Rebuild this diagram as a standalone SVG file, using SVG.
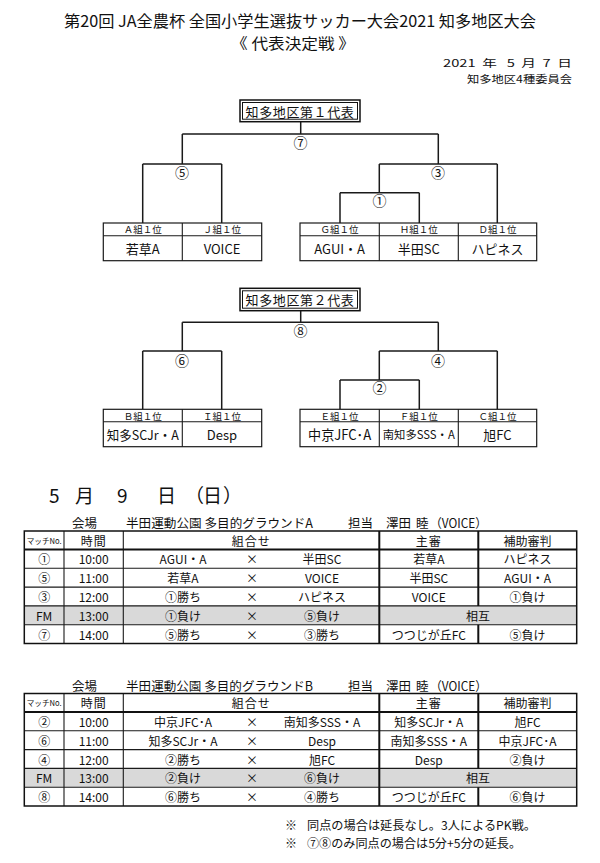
<svg xmlns="http://www.w3.org/2000/svg" width="600" height="863" viewBox="0 0 600 863">
<style>
text{font-family:"Noto Sans CJK JP","Noto Sans CJK SC",sans-serif;fill:#111;}
.c{text-anchor:middle;dominant-baseline:central;}
.t{font-size:12px;}
.lab{font-size:9.5px;}
.team{font-size:13px;}
.num{font-size:14px;}
.ln{stroke:#1a1a1a;stroke-width:1.5;fill:none;}
.box{stroke:#1a1a1a;stroke-width:1.2;fill:#fff;}
.tl{stroke:#1a1a1a;stroke-width:1.1;fill:none;}
.tk{stroke:#111;stroke-width:2;fill:none;}
.fm{fill:#d9d9d9;}
</style>
<rect width="600" height="863" fill="#fff"/>
<g id="header">
<text x="300" y="20" class="c" font-size="16" textLength="472" lengthAdjust="spacingAndGlyphs">第20回 JA全農杯 全国小学生選抜サッカー大会2021 知多地区大会</text>
<text x="293" y="42" class="c" font-size="15" textLength="124" lengthAdjust="spacingAndGlyphs">《 代表決定戦 》</text>
<text x="443" y="62.5" font-size="10.5" dominant-baseline="central" textLength="129" lengthAdjust="spacingAndGlyphs" xml:space="preserve">2021  年   5  月  7  日</text>
<text x="467" y="78.3" font-size="10.5" dominant-baseline="central" textLength="105" lengthAdjust="spacingAndGlyphs">知多地区4種委員会</text>
</g>
<g id="connectors">
<path class="ln" d="M300.7 121.7V134M182.3 134H438.3M182.3 134V164M142.7 164H221.7M142.7 164V223M221.7 164V223M438.3 134V164M379.3 164H497.3M497.3 164V223M379.3 164V192.7M340 192.7H419.3M340 192.7V223M419.3 192.7V223"/>
<path class="ln" d="M300.7 310.7V322.3M182.3 322.3H438.3M182.3 322.3V351M142.7 351H221.7M142.7 351V409.3M221.7 351V409.3M438.3 322.3V351M379.3 351H497.3M497.3 351V409.3M379.3 351V380M340 380H419.3M340 380V409.3M419.3 380V409.3"/>
</g>
<g id="match-labels">
<text x="300.5" y="141.5" class="c num">⑦</text>
<text x="182" y="171.5" class="c num">⑤</text>
<text x="438" y="171.5" class="c num">③</text>
<text x="379.5" y="200" class="c num">①</text>
<text x="300.5" y="330" class="c num">⑧</text>
<text x="182" y="359.5" class="c num">⑥</text>
<text x="438" y="359.5" class="c num">④</text>
<text x="379.5" y="387" class="c num">②</text>
</g>
<g id="rep1">
<rect x="240" y="100" width="120" height="21.7" fill="#fff" stroke="#111" stroke-width="1.5"/>
<rect x="242.5" y="102.5" width="115" height="16.7" fill="none" stroke="#111" stroke-width="1"/>
<text x="300" y="111" class="c" font-size="13" letter-spacing="0.6">知多地区第１代表</text>
</g>
<g id="rep2">
<rect x="240" y="288.3" width="120" height="22.4" fill="#fff" stroke="#111" stroke-width="1.5"/>
<rect x="242.5" y="290.8" width="115" height="17.4" fill="none" stroke="#111" stroke-width="1"/>
<text x="300" y="299.5" class="c" font-size="13" letter-spacing="0.6">知多地区第２代表</text>
</g>
<g id="teams-a">
<rect class="box" x="103.3" y="223" width="158.4" height="37.7"/>
<path class="tl" d="M103.3 235.7H261.7M182.3 223V260.7"/>
<text x="142.8" y="229.4" class="c lab">Ａ組１位</text>
<text x="222" y="229.4" class="c lab">Ｊ組１位</text>
<text x="142.8" y="248.3" class="c team">若草A</text>
<text x="222" y="248.3" class="c team">VOICE</text>
</g>
<g id="teams-b">
<rect class="box" x="300" y="223" width="236.7" height="37.7"/>
<path class="tl" d="M300 235.7H536.7M379.3 223V260.7M458.3 223V260.7"/>
<text x="339.6" y="229.4" class="c lab">Ｇ組１位</text>
<text x="418.8" y="229.4" class="c lab">Ｈ組１位</text>
<text x="497.5" y="229.4" class="c lab">Ｄ組１位</text>
<text x="339.6" y="248.3" class="c team">AGUI・A</text>
<text x="418.8" y="248.3" class="c team">半田SC</text>
<text x="497.5" y="248.3" class="c team">ハピネス</text>
</g>
<g id="teams-c">
<rect class="box" x="103.3" y="409.3" width="158.4" height="37.4"/>
<path class="tl" d="M103.3 421.7H261.7M182.3 409.3V446.7"/>
<text x="142.8" y="415.6" class="c lab">Ｂ組１位</text>
<text x="222" y="415.6" class="c lab">Ｉ組１位</text>
<text x="142.8" y="434.3" class="c team" textLength="72" lengthAdjust="spacingAndGlyphs">知多SCJr・A</text>
<text x="222" y="434.3" class="c team">Desp</text>
</g>
<g id="teams-d">
<rect class="box" x="300" y="409.3" width="236.7" height="37.4"/>
<path class="tl" d="M300 421.7H536.7M379.3 409.3V446.7M458.3 409.3V446.7"/>
<text x="339.6" y="415.6" class="c lab">Ｅ組１位</text>
<text x="418.8" y="415.6" class="c lab">Ｆ組１位</text>
<text x="497.5" y="415.6" class="c lab">Ｃ組１位</text>
<text x="339.6" y="434.3" class="c" font-size="14" textLength="63" lengthAdjust="spacingAndGlyphs">中京JFC･A</text>
<text x="418.8" y="434.3" class="c" font-size="11.5" textLength="72" lengthAdjust="spacingAndGlyphs">南知多SSS・A</text>
<text x="497.5" y="434.3" class="c team">旭FC</text>
</g>
<g id="day">
<text y="494" font-size="19" dominant-baseline="central"><tspan x="49">5</tspan><tspan x="75">月</tspan><tspan x="117">9</tspan><tspan x="157">日</tspan><tspan x="185">（</tspan><tspan x="203">日</tspan><tspan x="223">）</tspan></text>
</g>
<g id="venue-a">
<text x="72" y="522.7" font-size="12.5" dominant-baseline="central">会場</text>
<text x="126" y="522.7" font-size="12.5" dominant-baseline="central" textLength="187" lengthAdjust="spacingAndGlyphs">半田運動公園 多目的グラウンドA</text>
<text x="348" y="522.7" font-size="12.5" dominant-baseline="central">担当</text>
<text x="386" y="522.7" font-size="12.5" dominant-baseline="central">澤田</text>
<text x="416" y="522.7" font-size="12.5" dominant-baseline="central">睦</text>
<text x="430" y="522.7" font-size="12.5" dominant-baseline="central" textLength="57" lengthAdjust="spacingAndGlyphs">（VOICE）</text>
</g>
<g id="table-a">
<rect class="fm" x="24.3" y="605.9" width="552.4" height="18.8"/>
<path class="tl" d="M24.3 568.3H576.7M24.3 587.1H576.7M24.3 605.9H576.7M24.3 624.7H576.7M64 531V643.5M123.3 531V643.5"/>
<path class="tk" d="M24.3 549.5H576.7M379.3 531V643.5M478.3 531V605.9M478.3 624.7V643.5"/>
<rect x="24.3" y="531" width="552.4" height="112.5" fill="none" stroke="#111" stroke-width="1.5"/>
<text x="44.2" y="540.3" class="c" font-size="8" textLength="35" lengthAdjust="spacingAndGlyphs">マッチNo.</text>
<text x="93.7" y="540.3" class="c t" letter-spacing="1">時間</text>
<text x="251.3" y="540.3" class="c t" letter-spacing="1">組合せ</text>
<text x="428.8" y="540.3" class="c t" letter-spacing="1">主審</text>
<text x="527.5" y="540.3" class="c t">補助審判</text>
<g class="t">
<text x="44.2" y="558.9" class="c">①</text><text x="93.7" y="558.9" class="c">10:00</text><text x="183" y="558.9" class="c">AGUI・A</text><text x="252" y="558.9" class="c">×</text><text x="322" y="558.9" class="c">半田SC</text><text x="428.8" y="558.9" class="c">若草A</text><text x="527.5" y="558.9" class="c">ハピネス</text>
<text x="44.2" y="577.7" class="c">⑤</text><text x="93.7" y="577.7" class="c">11:00</text><text x="183" y="577.7" class="c">若草A</text><text x="252" y="577.7" class="c">×</text><text x="322" y="577.7" class="c">VOICE</text><text x="428.8" y="577.7" class="c">半田SC</text><text x="527.5" y="577.7" class="c">AGUI・A</text>
<text x="44.2" y="596.5" class="c">③</text><text x="93.7" y="596.5" class="c">12:00</text><text x="183" y="596.5" class="c">①勝ち</text><text x="252" y="596.5" class="c">×</text><text x="322" y="596.5" class="c">ハピネス</text><text x="428.8" y="596.5" class="c">VOICE</text><text x="527.5" y="596.5" class="c">①負け</text>
<text x="44.2" y="615.3" class="c">FM</text><text x="93.7" y="615.3" class="c">13:00</text><text x="183" y="615.3" class="c">①負け</text><text x="252" y="615.3" class="c">×</text><text x="322" y="615.3" class="c">⑤負け</text><text x="478" y="615.3" class="c">相互</text>
<text x="44.2" y="634.1" class="c">⑦</text><text x="93.7" y="634.1" class="c">14:00</text><text x="183" y="634.1" class="c">⑤勝ち</text><text x="252" y="634.1" class="c">×</text><text x="322" y="634.1" class="c">③勝ち</text><text x="428.8" y="634.1" class="c">つつじが丘FC</text><text x="527.5" y="634.1" class="c">⑤負け</text>
</g>
</g>
<g id="venue-b">
<text x="72" y="685" font-size="12.5" dominant-baseline="central">会場</text>
<text x="126" y="685" font-size="12.5" dominant-baseline="central" textLength="187" lengthAdjust="spacingAndGlyphs">半田運動公園 多目的グラウンドB</text>
<text x="348" y="685" font-size="12.5" dominant-baseline="central">担当</text>
<text x="386" y="685" font-size="12.5" dominant-baseline="central">澤田</text>
<text x="416" y="685" font-size="12.5" dominant-baseline="central">睦</text>
<text x="430" y="685" font-size="12.5" dominant-baseline="central" textLength="57" lengthAdjust="spacingAndGlyphs">（VOICE）</text>
</g>
<g id="table-b" transform="translate(0,162.5)">
<rect class="fm" x="24.3" y="605.9" width="552.4" height="18.8"/>
<path class="tl" d="M24.3 568.3H576.7M24.3 587.1H576.7M24.3 605.9H576.7M24.3 624.7H576.7M64 531V643.5M123.3 531V643.5"/>
<path class="tk" d="M24.3 549.5H576.7M379.3 531V643.5M478.3 531V605.9M478.3 624.7V643.5"/>
<rect x="24.3" y="531" width="552.4" height="112.5" fill="none" stroke="#111" stroke-width="1.5"/>
<text x="44.2" y="540.3" class="c" font-size="8" textLength="35" lengthAdjust="spacingAndGlyphs">マッチNo.</text>
<text x="93.7" y="540.3" class="c t" letter-spacing="1">時間</text>
<text x="251.3" y="540.3" class="c t" letter-spacing="1">組合せ</text>
<text x="428.8" y="540.3" class="c t" letter-spacing="1">主審</text>
<text x="527.5" y="540.3" class="c t">補助審判</text>
<g class="t">
<text x="44.2" y="558.9" class="c">②</text><text x="93.7" y="558.9" class="c">10:00</text><text x="183" y="558.9" class="c">中京JFC･A</text><text x="252" y="558.9" class="c">×</text><text x="322" y="558.9" class="c">南知多SSS・A</text><text x="428.8" y="558.9" class="c">知多SCJr・A</text><text x="527.5" y="558.9" class="c">旭FC</text>
<text x="44.2" y="577.7" class="c">⑥</text><text x="93.7" y="577.7" class="c">11:00</text><text x="183" y="577.7" class="c">知多SCJr・A</text><text x="252" y="577.7" class="c">×</text><text x="322" y="577.7" class="c">Desp</text><text x="428.8" y="577.7" class="c">南知多SSS・A</text><text x="527.5" y="577.7" class="c">中京JFC･A</text>
<text x="44.2" y="596.5" class="c">④</text><text x="93.7" y="596.5" class="c">12:00</text><text x="183" y="596.5" class="c">②勝ち</text><text x="252" y="596.5" class="c">×</text><text x="322" y="596.5" class="c">旭FC</text><text x="428.8" y="596.5" class="c">Desp</text><text x="527.5" y="596.5" class="c">②負け</text>
<text x="44.2" y="615.3" class="c">FM</text><text x="93.7" y="615.3" class="c">13:00</text><text x="183" y="615.3" class="c">②負け</text><text x="252" y="615.3" class="c">×</text><text x="322" y="615.3" class="c">⑥負け</text><text x="478" y="615.3" class="c">相互</text>
<text x="44.2" y="634.1" class="c">⑧</text><text x="93.7" y="634.1" class="c">14:00</text><text x="183" y="634.1" class="c">⑥勝ち</text><text x="252" y="634.1" class="c">×</text><text x="322" y="634.1" class="c">④勝ち</text><text x="428.8" y="634.1" class="c">つつじが丘FC</text><text x="527.5" y="634.1" class="c">⑥負け</text>
</g>
</g>
<g id="notes">
<text x="285" y="824.3" font-size="12" dominant-baseline="central">※</text>
<text x="307" y="824.3" font-size="12" dominant-baseline="central" textLength="229" lengthAdjust="spacingAndGlyphs">同点の場合は延長なし。3人によるPK戦。</text>
<text x="285" y="842.7" font-size="12" dominant-baseline="central">※</text>
<text x="307" y="842.7" font-size="12" dominant-baseline="central" textLength="214" lengthAdjust="spacingAndGlyphs">⑦⑧のみ同点の場合は5分+5分の延長。</text>
</g>
</svg>
